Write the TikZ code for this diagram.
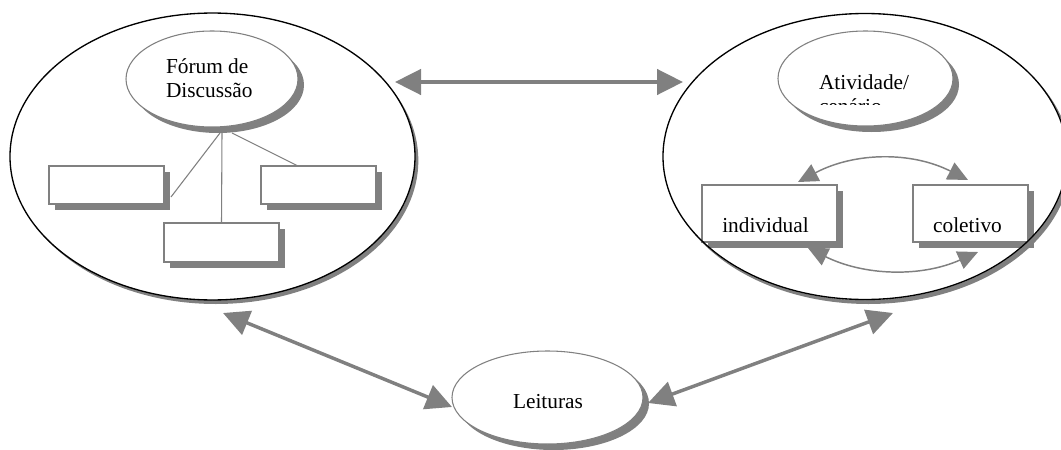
\documentclass[tikz,border=0pt]{standalone}
\usepackage{fontspec}
\setmainfont{Liberation Serif}
\usetikzlibrary{shapes.geometric,shadows,arrows.meta}
\definecolor{shade}{RGB}{128,128,128}
\begin{document}
\begin{tikzpicture}[x=0.75pt,y=-0.75pt,
  every node/.style={inner sep=0pt,outer sep=0pt},
  txt/.style={font=\fontsize{16pt}{18pt}\selectfont,text=black},
  bigfill/.style={ellipse,fill=white,minimum width=303.75pt,minimum height=215.25pt,
    drop shadow={shadow xshift=2.5pt,shadow yshift=-3pt,fill=shade,opacity=1}},
  bigline/.style={draw=black,line width=1pt},
  smallell/.style={ellipse,draw=shade,line width=0.8pt,fill=white,
    drop shadow={shadow xshift=4.5pt,shadow yshift=-4.5pt,fill=shade,opacity=1}},
  boxnode/.style={rectangle,draw=shade,line width=0.8pt,fill=white,
    drop shadow={shadow xshift=4.5pt,shadow yshift=-4.5pt,fill=shade,opacity=1}},
  bigarrow/.style={draw=shade,line width=2.6pt,
    {Triangle[length=19.5pt,width=19pt]}-{Triangle[length=19.5pt,width=19pt]}},
  arcarrow/.style={draw=shade,line width=1.1pt,
    {Triangle[length=15pt,width=14pt]}-{Triangle[length=15pt,width=14pt]}},
  link/.style={draw=shade,line width=0.8pt}
]
\useasboundingbox (0,0) rectangle (1061,450);

% ---------- left big ellipse ----------
\node[bigfill] (L) at (212.5,156.5) {};
\node[smallell,minimum width=129pt,minimum height=72pt] (F) at (212,79) {};
\node[txt,anchor=base west] (F1) at (166,73) {Fórum de};
\node[txt,anchor=base west] (F2) at (166,97) {Discussão};
\node[boxnode,minimum width=86.25pt,minimum height=28.5pt] (B1) at (106.5,185) {};
\node[boxnode,minimum width=86.25pt,minimum height=28.5pt] (B2) at (318.5,185) {};
\node[boxnode,minimum width=86.25pt,minimum height=29.25pt] (B3) at (221.5,242.5) {};
\coordinate (fa) at (220,133);
\coordinate (fb) at (222,133);
\coordinate (fc) at (232,133);
\coordinate (b1e) at (171,197);
\coordinate (b2t) at (298,166);
\draw[link] (fa) -- (b1e);
\draw[link] (fb) -- (B3.north);
\draw[link] (fc) -- (b2t);
\draw[bigline] (L.center) ellipse [x radius=151.875pt,y radius=107.6pt];

% ---------- right big ellipse ----------
\node[bigfill] (R) at (865,156.5) {};
\node[smallell,minimum width=131.25pt,minimum height=71.25pt] (A) at (865.5,78.5) {};
\node[txt,anchor=base west] (A1) at (819,89) {Atividade/};
\begin{scope}
  \clip (800,60) rectangle (950,104.8);
  \node[txt,anchor=base west] (A2) at (819,113) {cenário};
\end{scope}
\node[boxnode,minimum width=101.25pt,minimum height=42.75pt] (I) at (769.5,213.5) {};
\node[boxnode,minimum width=86.25pt,minimum height=42.75pt] (C) at (970.5,213.5) {};
\node[txt,anchor=base] (It) at (765.5,232) {individual};
\node[txt,anchor=base] (Ct) at (967.5,232) {coletivo};
\coordinate (t1) at (798,182);
\coordinate (t2) at (968,180);
\coordinate (u1) at (808,248);
\coordinate (u2) at (978,252);
\draw[arcarrow] (t1) .. controls (854.7,152) and (911.3,151.3) .. (t2);
\draw[arcarrow] (u1) .. controls (864.7,276) and (921.3,277.3) .. (u2);
\draw[bigline] (R.center) ellipse [x radius=151.5pt,y radius=107.25pt];

% ---------- Leituras ----------
\node[smallell,minimum width=143.25pt,minimum height=69.75pt,
  drop shadow={shadow xshift=4pt,shadow yshift=-3.5pt,fill=shade,opacity=1}] (Le) at (547.5,397.5) {};
\node[txt,anchor=base] (Lt) at (548,408) {Leituras};

% ---------- big arrows ----------
\coordinate (h1) at (395,82);
\coordinate (h2) at (683,82);
\coordinate (d1) at (223,313);
\coordinate (d2) at (452,407);
\coordinate (e1) at (648,403);
\coordinate (e2) at (893,313);
\draw[bigarrow] (h1) -- (h2);
\draw[bigarrow] (d1) -- (d2);
\draw[bigarrow] (e1) -- (e2);
\end{tikzpicture}
\end{document}
